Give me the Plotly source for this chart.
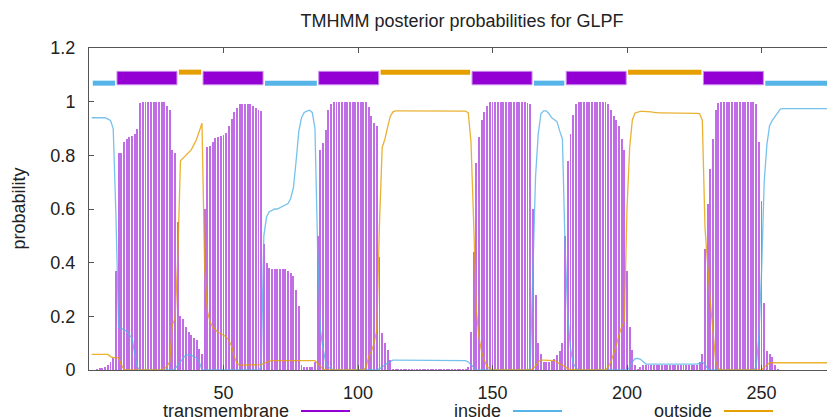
import plotly.graph_objects as go

# ---------------- data ----------------
residues = list(range(1, 282))

tm = [
    0.0, 0.0, 0.005, 0.006, 0.008, 0.012, 0.02, 0.03, 0.045, 0.37,
    0.81, 0.81, 0.85, 0.86, 0.87, 0.873, 0.88, 0.90, 0.995, 1.0,
    1.0, 1.0, 1.0, 1.0, 1.0, 1.0, 1.0, 1.0, 0.985, 0.97,
    0.82, 0.81, 0.55, 0.20, 0.19, 0.16, 0.14, 0.13, 0.12, 0.11,
    0.08, 0.06, 0.60, 0.83, 0.835, 0.85, 0.865, 0.87, 0.873, 0.875,
    0.885, 0.91, 0.935, 0.96, 0.975, 0.99, 0.99, 0.99, 0.99, 0.99,
    0.985, 0.975, 0.97, 0.965, 0.47, 0.40, 0.38, 0.376, 0.376, 0.376,
    0.376, 0.376, 0.376, 0.37, 0.36, 0.35, 0.30, 0.24, 0.02, 0.01,
    0.01, 0.01, 0.01, 0.03, 0.50, 0.82, 0.846, 0.896, 0.97, 0.99,
    1.0, 1.0, 1.0, 1.0, 1.0, 1.0, 1.0, 1.0, 1.0, 1.0,
    1.0, 1.0, 1.0, 0.98, 0.945, 0.92, 0.91, 0.42, 0.137, 0.10,
    0.075, 0.037, 0.005, 0.004, 0.004, 0.004, 0.004, 0.004, 0.004, 0.004,
    0.004, 0.004, 0.004, 0.004, 0.004, 0.004, 0.004, 0.004, 0.004, 0.004,
    0.004, 0.004, 0.004, 0.004, 0.004, 0.004, 0.004, 0.004, 0.004, 0.004,
    0.01, 0.14, 0.44, 0.77, 0.87, 0.93, 0.96, 0.985, 1.0, 1.0,
    1.0, 1.0, 1.0, 1.0, 1.0, 1.0, 1.0, 1.0, 1.0, 1.0,
    1.0, 1.0, 0.995, 0.99, 0.60, 0.28, 0.10, 0.06, 0.03, 0.03,
    0.03, 0.035, 0.04, 0.055, 0.07, 0.10, 0.50, 0.78, 0.88, 0.95,
    0.99, 1.0, 1.0, 1.0, 1.0, 1.0, 1.0, 1.0, 1.0, 1.0,
    1.0, 1.0, 0.99, 0.97, 0.945, 0.93, 0.91, 0.86, 0.82, 0.37,
    0.16, 0.075, 0.02, 0.005, 0.01, 0.02, 0.02, 0.02, 0.02, 0.02,
    0.02, 0.02, 0.02, 0.02, 0.02, 0.02, 0.02, 0.02, 0.02, 0.02,
    0.02, 0.02, 0.02, 0.02, 0.02, 0.02, 0.03, 0.06, 0.45, 0.62,
    0.75, 0.86, 0.97, 0.995, 1.0, 1.0, 1.0, 1.0, 1.0, 1.0,
    1.0, 1.0, 1.0, 1.0, 1.0, 1.0, 1.0, 0.99, 0.85, 0.63,
    0.25, 0.07, 0.06, 0.05, 0.02, 0.005, 0.0, 0.0, 0.0, 0.0,
    0.0, 0.0, 0.0, 0.0, 0.0, 0.0, 0.0, 0.0, 0.0, 0.0,
    0.0, 0.0, 0.0, 0.0, 0.0, 0.0, 0.0, 0.0, 0.0, 0.0,
    0.0,
]

inside = [
    0.94, 0.94, 0.94, 0.94, 0.94, 0.94, 0.935, 0.93, 0.90, 0.58,
    0.16, 0.155, 0.15, 0.145, 0.13, 0.12, 0.06, 0.01, 0.0, 0.0,
    0.0, 0.0, 0.0, 0.0, 0.0, 0.0, 0.0, 0.0, 0.0, 0.0,
    0.0, 0.005, 0.02, 0.03, 0.045, 0.055, 0.056, 0.055, 0.05, 0.045,
    0.03, 0.0, 0.0, 0.0, 0.0, 0.0, 0.0, 0.0, 0.0, 0.0,
    0.0, 0.0, 0.0, 0.0, 0.0, 0.0, 0.0, 0.0, 0.0, 0.0,
    0.0, 0.0, 0.0, 0.01, 0.50, 0.57, 0.59, 0.595, 0.60, 0.60,
    0.605, 0.61, 0.615, 0.62, 0.64, 0.68, 0.78, 0.89, 0.94, 0.96,
    0.965, 0.968, 0.96, 0.90, 0.45, 0.15, 0.08, 0.03, 0.01, 0.005,
    0.0, 0.0, 0.0, 0.0, 0.0, 0.0, 0.0, 0.0, 0.0, 0.0,
    0.0, 0.0, 0.0, 0.0, 0.0, 0.0, 0.0, 0.005, 0.01, 0.02,
    0.025, 0.033, 0.037, 0.037, 0.037, 0.037, 0.037, 0.037, 0.037, 0.037,
    0.037, 0.037, 0.037, 0.037, 0.037, 0.037, 0.037, 0.037, 0.037, 0.037,
    0.037, 0.037, 0.037, 0.037, 0.037, 0.037, 0.037, 0.037, 0.037, 0.035,
    0.03, 0.02, 0.01, 0.0, 0.0, 0.0, 0.0, 0.0, 0.0, 0.0,
    0.0, 0.0, 0.0, 0.0, 0.0, 0.0, 0.0, 0.0, 0.0, 0.0,
    0.0, 0.0, 0.0, 0.005, 0.33, 0.72, 0.88, 0.955, 0.966, 0.966,
    0.955, 0.94, 0.933, 0.925, 0.89, 0.86, 0.45, 0.20, 0.08, 0.025,
    0.008, 0.0, 0.0, 0.0, 0.0, 0.0, 0.0, 0.0, 0.0, 0.0,
    0.0, 0.0, 0.0, 0.0, 0.0, 0.0, 0.0, 0.0, 0.0, 0.0,
    0.01, 0.03, 0.042, 0.043, 0.04, 0.03, 0.022, 0.022, 0.022, 0.022,
    0.022, 0.022, 0.022, 0.022, 0.022, 0.022, 0.022, 0.022, 0.022, 0.022,
    0.022, 0.022, 0.022, 0.022, 0.022, 0.022, 0.025, 0.03, 0.02, 0.005,
    0.0, 0.0, 0.0, 0.0, 0.0, 0.0, 0.0, 0.0, 0.0, 0.0,
    0.0, 0.0, 0.0, 0.0, 0.0, 0.0, 0.0, 0.01, 0.12, 0.36,
    0.70, 0.84, 0.91, 0.93, 0.945, 0.96, 0.972, 0.974, 0.974, 0.974,
    0.974, 0.974, 0.974, 0.974, 0.974, 0.974, 0.974, 0.974, 0.974, 0.974,
    0.974, 0.974, 0.974, 0.974, 0.974, 0.974, 0.974, 0.974, 0.974, 0.974,
    0.974,
]

outside = [
    0.058, 0.058, 0.058, 0.058, 0.058, 0.058, 0.058, 0.05, 0.046, 0.046,
    0.045, 0.02, 0.003, 0.0, 0.0, 0.0, 0.0, 0.0, 0.0, 0.0,
    0.0, 0.0, 0.0, 0.0, 0.0, 0.0, 0.0, 0.005, 0.015, 0.03,
    0.17, 0.19, 0.42, 0.78, 0.79, 0.80, 0.81, 0.82, 0.84, 0.86,
    0.89, 0.92, 0.38, 0.22, 0.18, 0.16, 0.15, 0.14, 0.135, 0.13,
    0.124, 0.11, 0.09, 0.05, 0.025, 0.018, 0.018, 0.018, 0.018, 0.018,
    0.018, 0.018, 0.018, 0.02, 0.025, 0.03, 0.033, 0.035, 0.035, 0.035,
    0.035, 0.035, 0.036, 0.037, 0.037, 0.037, 0.037, 0.037, 0.037, 0.037,
    0.037, 0.037, 0.037, 0.035, 0.025, 0.012, 0.003, 0.0, 0.0, 0.0,
    0.0, 0.0, 0.0, 0.0, 0.0, 0.0, 0.0, 0.0, 0.0, 0.0,
    0.0, 0.0, 0.01, 0.05, 0.07, 0.10, 0.15, 0.55, 0.83, 0.86,
    0.905, 0.945, 0.962, 0.966, 0.966, 0.966, 0.966, 0.966, 0.966, 0.966,
    0.966, 0.966, 0.966, 0.966, 0.966, 0.966, 0.966, 0.966, 0.966, 0.966,
    0.966, 0.966, 0.966, 0.966, 0.966, 0.966, 0.966, 0.966, 0.966, 0.965,
    0.958, 0.85, 0.55, 0.22, 0.12, 0.065, 0.035, 0.012, 0.005, 0.0,
    0.0, 0.0, 0.0, 0.0, 0.0, 0.0, 0.0, 0.0, 0.0, 0.0,
    0.0, 0.0, 0.0, 0.0, 0.005, 0.015, 0.03, 0.037, 0.037, 0.037,
    0.037, 0.037, 0.035, 0.03, 0.022, 0.018, 0.01, 0.005, 0.002, 0.0,
    0.0, 0.0, 0.0, 0.0, 0.0, 0.0, 0.0, 0.0, 0.0, 0.0,
    0.0, 0.0, 0.012, 0.03, 0.06, 0.09, 0.13, 0.16, 0.18, 0.60,
    0.83, 0.933, 0.958, 0.962, 0.964, 0.964, 0.964, 0.963, 0.962, 0.96,
    0.958, 0.958, 0.958, 0.958, 0.958, 0.958, 0.958, 0.958, 0.958, 0.958,
    0.958, 0.958, 0.958, 0.958, 0.957, 0.956, 0.955, 0.93, 0.53, 0.37,
    0.25, 0.14, 0.03, 0.005, 0.0, 0.0, 0.0, 0.0, 0.0, 0.0,
    0.0, 0.0, 0.0, 0.0, 0.0, 0.0, 0.0, 0.0, 0.0, 0.0,
    0.01, 0.02, 0.027, 0.027, 0.027, 0.027, 0.027, 0.027, 0.027, 0.027,
    0.027, 0.027, 0.027, 0.027, 0.027, 0.027, 0.027, 0.027, 0.027, 0.027,
    0.027, 0.027, 0.027, 0.027, 0.027, 0.027, 0.027, 0.027, 0.027, 0.027,
    0.027,
]

# predicted topology (residue start, residue end)
inside_segments = [(1, 9), (65, 84), (165, 176), (251, 281)]
tm_segments = [(10, 32), (42, 64), (85, 107), (142, 164), (177, 199), (228, 250)]
outside_segments = [(33, 41), (108, 141), (200, 227)]

x_tickvals = [50, 100, 150, 200, 250]
y_tickvals = [0, 0.2, 0.4, 0.6, 0.8, 1.0, 1.2]
y_ticktext = ["0", "0.2", "0.4", "0.6", "0.8", "1", "1.2"]

legend_labels = ["transmembrane", "inside", "outside"]
title_text = "TMHMM posterior probabilities for GLPF"
ylabel_text = "probability"

assert len(tm) == len(residues) == len(inside) == len(outside), (len(tm), len(inside), len(outside))

# ---------------- styles ----------------
C_TM = "#9400D3"
C_IN = "#56B4E9"
C_OUT = "#E69F00"
FONT = "Liberation Sans, Arial, Helvetica, sans-serif"
TXT = "#222222"
AX = "#555555"

Y_IN, Y_OUT, Y_TM0, Y_TM1 = 1.069, 1.110, 1.063, 1.113
PAD0, PAD1 = 0.4, 0.7

fig = go.Figure()

fig.add_trace(go.Bar(
    x=residues, y=tm, width=0.72,
    marker=dict(color="rgba(155,20,215,0.62)", line=dict(width=0)),
    showlegend=False, hoverinfo="x+y",
))
fig.add_trace(go.Scatter(
    x=residues, y=inside, mode="lines",
    line=dict(color=C_IN, width=1.3), opacity=0.8, showlegend=False,
))
fig.add_trace(go.Scatter(
    x=residues, y=outside, mode="lines",
    line=dict(color=C_OUT, width=1.3), opacity=0.8, showlegend=False,
))

# topology strip
def seg_xy(segs, y):
    xs, ys = [], []
    for s, e in segs:
        xs += [s + PAD0, e + PAD1, None]
        ys += [y, y, None]
    return xs, ys

xs, ys = seg_xy(inside_segments, Y_IN)
fig.add_trace(go.Scatter(x=xs, y=ys, mode="lines", line=dict(color=C_IN, width=5),
                         showlegend=False, hoverinfo="skip"))
xs, ys = seg_xy(outside_segments, Y_OUT)
fig.add_trace(go.Scatter(x=xs, y=ys, mode="lines", line=dict(color=C_OUT, width=5),
                         showlegend=False, hoverinfo="skip"))
bx, by = [], []
for s, e in tm_segments:
    bx += [s + PAD0, e + PAD1, e + PAD1, s + PAD0, s + PAD0, None]
    by += [Y_TM0, Y_TM0, Y_TM1, Y_TM1, Y_TM0, None]
fig.add_trace(go.Scatter(x=bx, y=by, mode="lines", fill="toself", fillcolor=C_TM,
                         line=dict(color="#c98cec", width=1),
                         showlegend=False, hoverinfo="skip"))

# ---------------- layout ----------------
# the page body adds an 8px offset; size the figure to fill the 835x417 window exactly
OFF = 8
W, H = 835 - OFF, 417 - OFF
ML, MR, MT, MB = 89 - OFF, 0, 48 - OFF, 47
PW, PH = W - ML - MR, H - MT - MB

def px_x(px):  # window pixel -> paper
    return (px - (ML + OFF)) / PW

def px_y(py):
    return ((MT + OFF + PH) - py) / PH

annotations = [
    dict(text=ylabel_text, x=px_x(18.5), y=0.5, xref="paper", yref="paper",
         textangle=-90, showarrow=False, xanchor="center", yanchor="middle",
         font=dict(family=FONT, size=18, color=TXT)),
]
shapes = []
leg_right = [291, 503, 714]
leg_cols = [C_TM, C_IN, C_OUT]
for lab, r, c in zip(legend_labels, leg_right, leg_cols):
    annotations.append(dict(text=lab, x=px_x(r), y=px_y(411), xref="paper", yref="paper",
                            showarrow=False, xanchor="right", yanchor="middle",
                            font=dict(family=FONT, size=18, color=TXT)))
    shapes.append(dict(type="line", xref="paper", yref="paper",
                       x0=px_x(r + 10), x1=px_x(r + 59), y0=px_y(411), y1=px_y(411),
                       line=dict(color=c, width=2)))

fig.update_layout(
    width=W, height=H,
    margin=dict(l=ML, r=MR, t=MT, b=MB, pad=0),
    paper_bgcolor="white", plot_bgcolor="white",
    font=dict(family=FONT, size=18, color=TXT),
    title=dict(text=title_text, x=0.5, xref="paper", xanchor="center",
               y=1 - (21 - OFF) / H, yref="container", yanchor="middle",
               font=dict(family=FONT, size=18, color=TXT)),
    showlegend=False,
    bargap=0,
    xaxis=dict(range=[0, PW / 2.69], tickvals=x_tickvals, ticks="inside", ticklen=5,
               tickcolor=AX, showline=True, linecolor=AX, linewidth=1, mirror="ticks",
               showgrid=False, zeroline=False, ticklabelstandoff=6,
               tickfont=dict(family=FONT, size=18, color=TXT)),
    yaxis=dict(range=[0, 1.2], tickvals=y_tickvals, ticktext=y_ticktext, ticks="inside",
               ticklen=5, tickcolor=AX, showline=True, linecolor=AX, linewidth=1,
               mirror=False, showgrid=False, zeroline=False, ticklabelstandoff=9,
               tickfont=dict(family=FONT, size=18, color=TXT)),
    annotations=annotations,
    shapes=shapes,
)

fig.write_html("out.html")
